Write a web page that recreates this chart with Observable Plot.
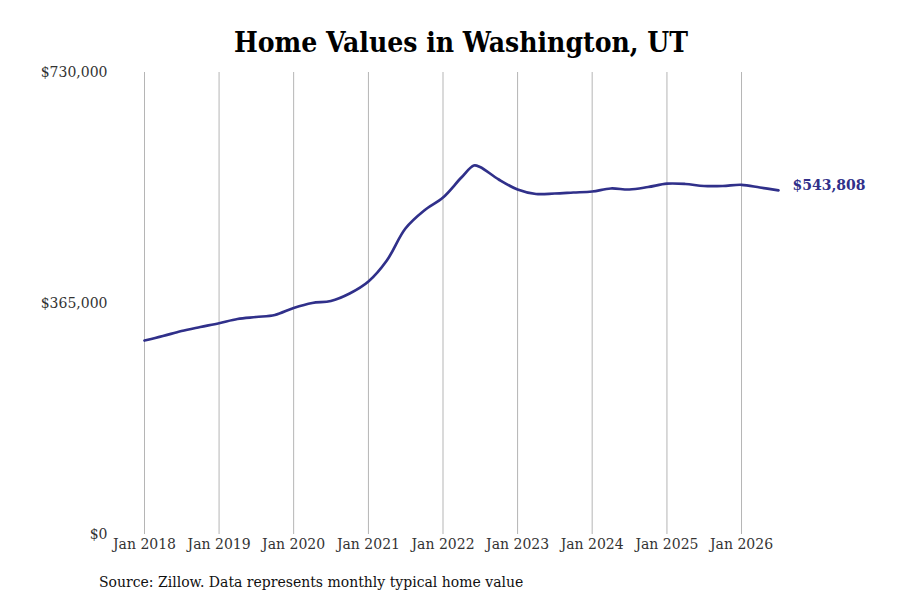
<!DOCTYPE html>
<html>
<head>
<meta charset="utf-8">
<script src="https://cdn.jsdelivr.net/npm/d3@7"></script>
<script src="https://cdn.jsdelivr.net/npm/@observablehq/plot@0.6"></script>
<style>
  html, body { margin: 0; padding: 0; background: #fff; }
  body { width: 900px; height: 600px; overflow: hidden; font-family: "DejaVu Serif", serif; }
  #title { box-sizing: border-box; height: 60px; padding: 28px 122px 0 144px; margin: 0;
           text-align: center; font-family: "DejaVu Serif Condensed", "DejaVu Serif", serif; font-stretch: condensed;
           font-size: 28px; line-height: 30px; font-weight: bold; color: #000; }
  #chart svg { display: block; }
  #caption { box-sizing: border-box; height: 40px; padding: 14px 0 0 99px; font-size: 14px; line-height: 16px; color: #111; }
</style>
</head>
<body>
<div id="title">Home Values in Washington, UT</div>
<div id="chart"></div>
<div id="caption">Source: Zillow. Data represents monthly typical home value</div>
<script>
const dates = [
  "2018-01","2018-04","2018-07","2018-10",
  "2019-01","2019-04","2019-07","2019-10",
  "2020-01","2020-04","2020-07","2020-10",
  "2021-01","2021-04","2021-07","2021-10",
  "2022-01","2022-04","2022-06","2022-07","2022-10",
  "2023-01","2023-04","2023-07","2023-10",
  "2024-01","2024-04","2024-07","2024-10",
  "2025-01","2025-04","2025-07","2025-10",
  "2026-01","2026-04","2026-07"
];
const values = [
  306500, 313650, 321550, 327870,
  333870, 340510, 343670, 346830,
  357890, 365790, 368950, 380800,
  399760, 432940, 483510, 511950,
  532490, 564090, 583050, 580680, 560930,
  545130, 538020, 538810, 540390,
  541970, 546710, 545130, 549080,
  554300, 553820, 550660, 550660,
  552560, 548290, 543808
];
const yTicks = [0, 365000, 730000];
const xTicks = ["2018","2019","2020","2021","2022","2023","2024","2025","2026"];
const endLabel = "$543,808";

const parse = d3.utcParse("%Y-%m");
const data = dates.map((d, i) => ({date: parse(d), value: values[i]}));
const last = data[data.length - 1];
const lineColor = "#30308a";

const chart = Plot.plot({
  width: 900,
  height: 500,
  marginTop: 12,
  marginBottom: 26,
  marginLeft: 144,
  marginRight: 122,
  style: {fontFamily: "DejaVu Serif, serif", fontSize: "14px", color: "#333", background: "#fff"},
  x: {type: "utc", domain: [parse("2018-01"), parse("2026-07")]},
  y: {domain: [0, 730000]},
  marks: [
    Plot.gridX(xTicks.map(y => d3.utcParse("%Y")(y)), {stroke: "#b5b5b5", strokeOpacity: 1, strokeWidth: 1}),
    Plot.axisX(xTicks.map(y => d3.utcParse("%Y")(y)), {tickSize: 0, tickPadding: 5, tickFormat: d3.utcFormat("Jan %Y"), fontSize: 14, fill: "#333", label: null}),
    Plot.axisY(yTicks, {tickSize: 0, tickPadding: 37, tickFormat: d => "$" + d3.format(",")(d), fontSize: 14, fill: "#333", label: null}),
    Plot.line(data, {x: "date", y: "value", stroke: lineColor, strokeWidth: 2.7, curve: "catmull-rom"}),
    Plot.text([last], {x: "date", y: "value", text: () => endLabel, dx: 14, textAnchor: "start", fill: lineColor, fontWeight: "bold", fontSize: 14, dy: -5})
  ]
});
document.getElementById("chart").appendChild(chart);
</script>
</body>
</html>
